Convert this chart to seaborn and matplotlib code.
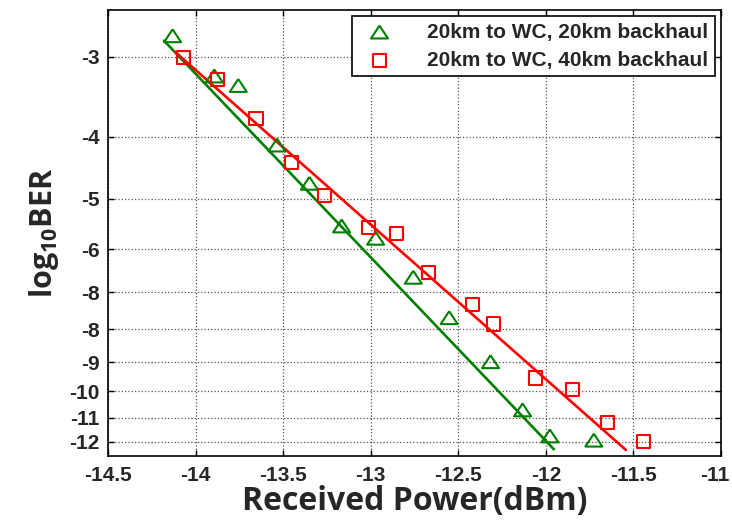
import numpy as np
import pandas as pd
import matplotlib
matplotlib.use("Agg")
import matplotlib.pyplot as plt
import matplotlib.transforms as mtransforms
import seaborn as sns

# Received power (dBm) and log10(BER) for each configuration
power_20km = [-14.131, -13.893, -13.756, -13.535, -13.350, -13.166, -12.972,
              -12.757, -12.552, -12.316, -12.133, -11.977, -11.726]
ber_20km = [-2.779, -3.212, -3.324, -4.119, -4.727, -5.512, -5.762,
            -6.631, -7.670, -8.987, -10.69, -11.74, -11.92]

power_40km = [-14.070, -13.874, -13.655, -13.452, -13.263, -13.014, -12.852,
              -12.672, -12.418, -12.297, -12.061, -11.848, -11.650, -11.445]
ber_40km = [-3.004, -3.251, -3.741, -4.389, -4.943, -5.538, -5.659,
            -6.513, -7.302, -7.847, -9.53, -9.95, -11.18, -11.97]

# Linear fit lines (end points)
fit_power_20km = [-14.180, -11.954]
fit_ber_20km = [-2.829, -12.32]
fit_power_40km = [-14.118, -11.543]
fit_ber_40km = [-2.943, -12.35]

labels = ["20km to WC, 20km backhaul", "20km to WC, 40km backhaul"]

xticks = [-14.5, -14, -13.5, -13, -12.5, -12, -11.5, -11]
xticklabels = ["-14.5", "-14", "-13.5", "-13", "-12.5", "-12", "-11.5", "-11"]
yticks = [-3, -4, -5, -6, -7, -8, -9, -10, -11, -12]
yticklabels = ["-3", "-4", "-5", "-6", "-8", "-8", "-9", "-10", "-11", "-12"]

sns.set_theme(style="white")
plt.rcParams["font.family"] = ["Liberation Sans", "DejaVu Sans"]
plt.rcParams["mathtext.fontset"] = "custom"
plt.rcParams["mathtext.rm"] = "Open Sans"
plt.rcParams["mathtext.bf"] = "Open Sans:bold"

GREEN = (0.0, 0.5, 0.0)
RED = (1.0, 0.0, 0.0)

fig = plt.figure(figsize=(7.32, 5.21), dpi=100)
ax = fig.add_axes([0.1475, 0.1248, 0.8375, 0.856])

# BER axis: -log10(-log10 BER) so the curve becomes a straight line
def fwd(y):
    y = np.asarray(y, dtype=float)
    return -np.log10(np.clip(-y, 1e-6, None))

def inv(t):
    t = np.asarray(t, dtype=float)
    return -np.power(10.0, -t)

ax.set_yscale("function", functions=(fwd, inv))

tri = [(0, 0.76), (-1, -0.76), (1, -0.76), (0, 0.76)]
ms_tri = 12.2
ms_sq = 9.4

df_fit20 = pd.DataFrame({"p": fit_power_20km, "b": fit_ber_20km})
df_fit40 = pd.DataFrame({"p": fit_power_40km, "b": fit_ber_40km})
sns.lineplot(data=df_fit20, x="p", y="b", ax=ax, color=GREEN, lw=1.9,
             sort=False, estimator=None, legend=False)
sns.lineplot(data=df_fit40, x="p", y="b", ax=ax, color=RED, lw=1.9,
             sort=False, estimator=None, legend=False)

sns.scatterplot(x=power_20km, y=ber_20km, ax=ax, marker=tri, s=ms_tri**2,
                color=GREEN, facecolor="none", edgecolor=GREEN,
                linewidth=1.5, label=labels[0], zorder=3)
sns.scatterplot(x=power_40km, y=ber_40km, ax=ax, marker="s", s=ms_sq**2,
                color=RED, facecolor="none", edgecolor=RED,
                linewidth=1.5, label=labels[1], zorder=3)

ax.set_xlim(-14.5, -11)
ax.set_ylim(-12.62, -2.533)
ax.set_xticks(xticks)
ax.set_xticklabels(xticklabels)
ax.set_yticks(yticks)
ax.set_yticklabels(yticklabels)
ax.minorticks_off()

ax.tick_params(axis="both", which="major", direction="in", length=4,
               width=1.0, color="black", top=True, right=True,
               bottom=True, left=True)
ax.tick_params(axis="x", pad=7)
ax.tick_params(axis="y", pad=6)

for lab in ax.get_xticklabels() + ax.get_yticklabels():
    lab.set_fontweight("bold")
    lab.set_fontsize(15)

# keep the last x tick label inside the canvas
last = ax.xaxis.get_major_ticks()[-1].label1
last.set_transform(last.get_transform() +
                   mtransforms.ScaledTranslation(-6 / 100, 0, fig.dpi_scale_trans))

ax.grid(True, linestyle=":", color="#555555", linewidth=0.9)
for sp in ax.spines.values():
    sp.set_visible(True)
    sp.set_color("black")
    sp.set_linewidth(1.2)

ax.set_xlabel("Received Power(dBm)", fontsize=23, fontweight="bold",
              family=["Open Sans", "DejaVu Sans"], labelpad=0)
ax.set_ylabel(r"$\mathbf{log_{10}BER}$", fontsize=22, labelpad=6)

leg = ax.legend(loc="upper right", frameon=True, fancybox=False,
                edgecolor="black", framealpha=1.0, borderpad=0.3,
                handletextpad=1.3, borderaxespad=0.3, labelspacing=0.45,
                prop={"weight": "bold", "size": 15,
                      "family": ["Liberation Sans", "DejaVu Sans"]})
leg.get_frame().set_linewidth(1.2)

fig.savefig("out.png", dpi=100)
